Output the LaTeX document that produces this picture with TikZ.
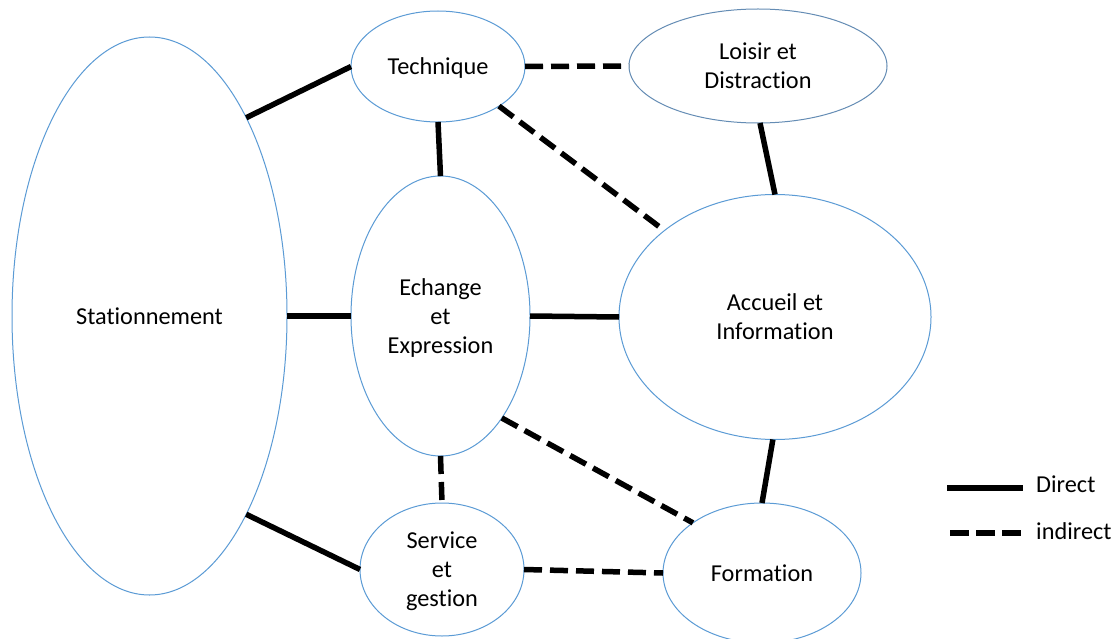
\documentclass[tikz,border=0pt]{standalone}
\usepackage{fontspec}
\setmainfont{Carlito}[Ligatures={NoCommon}]
\usetikzlibrary{shapes.geometric}
\definecolor{ebord}{RGB}{91,155,213}
\definecolor{lbord}{RGB}{100,140,180}
\begin{document}
\begin{tikzpicture}[x=1pt,y=-1pt,
  bubble/.style={ellipse, draw=ebord, line width=1pt, fill=white, inner sep=0pt, outer sep=0pt, align=center, text depth=0pt, font=\fontsize{24.3}{29}\selectfont},
  direct/.style={line width=5.5pt, draw=black},
  indirect/.style={line width=5.5pt, draw=black, dash pattern=on 18pt off 8pt},
  legtext/.style={anchor=base west, inner sep=0pt, font=\fontsize{24.3}{29}\selectfont}]
\useasboundingbox (0,0) rectangle (1118,639);
\fill[white] (0,0) rectangle (1118,639);
% nodes
\node[bubble, minimum width=275pt, minimum height=558pt] (stat) at (149.5,316) {Stationnement};
\node[bubble, minimum width=174pt, minimum height=111pt] (tech) at (438,66.5) {Technique};
\node[bubble, draw=lbord, minimum width=258pt, minimum height=114pt] (lois) at (758,66) {Loisir et\\Distraction};
\node[bubble, minimum width=179pt, minimum height=280pt] (ech) at (440.5,316) {Echange\\et\\Expression};
\node[bubble, minimum width=312pt, minimum height=245pt] (acc) at (775,317) {Accueil et\\Information};
\node[bubble, minimum width=164pt, minimum height=133pt] (serv) at (442,569.5) {Service\\et\\gestion};
\node[bubble, minimum width=198pt, minimum height=140pt] (form) at (762,573) {Formation};
% connectors
\draw[direct] (stat.64) -- (tech.west);
\draw[direct] (tech.south) -- (ech.north);
\draw[indirect] (tech.east) -- (lois.west);
\draw[indirect] (tech.-33) -- (acc.142);
\draw[direct] (lois.-88) -- (acc.north);
\draw[direct] (stat.east) -- (ech.west);
\draw[direct] (ech.east) -- (acc.west);
\draw[indirect] (ech.south) -- (serv.north);
\draw[indirect] (ech.-59) -- (form.144);
\draw[direct] (acc.-91) -- (form.north);
\draw[direct] (stat.-64) -- (serv.west);
\draw[indirect] (serv.east) -- (form.west);
% legend
\coordinate (lgsa) at (947,488);
\coordinate (lgsb) at (1023,488);
\coordinate (lgda) at (950,533);
\coordinate (lgdb) at (1022,533);
\draw[direct] (lgsa) -- (lgsb);
\draw[line width=5.5pt, draw=black, dash pattern=on 19pt off 7pt] (lgda) -- (lgdb);
\node[legtext] (lgdirect) at (1036,492) {Direct};
\node[legtext] (lgindirect) at (1036,539) {indirect};
\end{tikzpicture}
\end{document}
